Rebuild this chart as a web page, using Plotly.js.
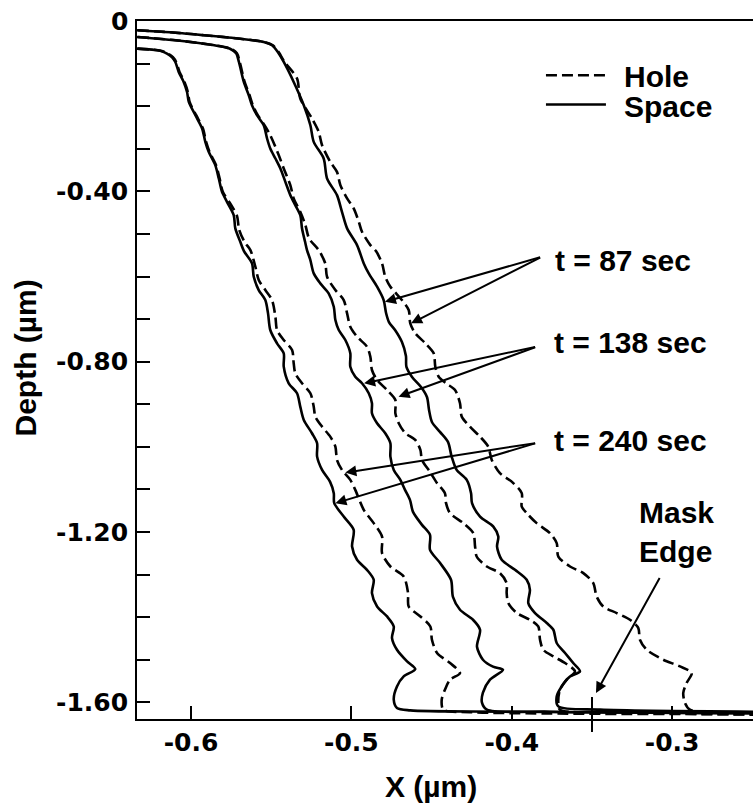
<!DOCTYPE html>
<html>
<head>
<meta charset="utf-8">
<script src="https://cdn.plot.ly/plotly-3.0.1.min.js"></script>
<style>html,body{margin:0;padding:0;background:#fff;}#chart{width:753px;height:807px;}</style>
</head>
<body>
<div id="chart"></div>
<script>
// ---- Data (X in µm, Depth in µm) ----
const s87x = [-0.6337,-0.6131,-0.5921,-0.5695,-0.5547,-0.5495,-0.5458,-0.5422,-0.5360,-0.5297,
 -0.5256,-0.5235,-0.5173,-0.5152,-0.5090,-0.5059,-0.5027,-0.4965,-0.4923,-0.4892,
 -0.4840,-0.4799,-0.4784,-0.4766,-0.4728,-0.4685,-0.4660,-0.4657,-0.4622,-0.4566,
 -0.4529,-0.4516,-0.4498,-0.4448,-0.4398,-0.4375,-0.4344,-0.4281,-0.4254,-0.4248,
 -0.4198,-0.4115,-0.4084,-0.4092,-0.4063,-0.3980,-0.3907,-0.3887,-0.3897,-0.3855,
 -0.3782,-0.3741,-0.3720,-0.3668,-0.3617,-0.3575,-0.3637,-0.3689,-0.3720,-0.3710,
 -0.3450,-0.2496];
const s87y = [-0.0218,-0.0265,-0.0335,-0.0418,-0.0493,-0.0570,-0.0734,-0.0962,-0.1431,-0.1978,
 -0.2447,-0.2839,-0.3228,-0.3697,-0.4089,-0.4481,-0.4870,-0.5262,-0.5692,-0.5926,
 -0.6240,-0.6553,-0.6857,-0.7069,-0.7256,-0.7538,-0.7866,-0.8124,-0.8359,-0.8594,
 -0.8828,-0.9133,-0.9415,-0.9649,-0.9884,-1.0229,-1.0541,-1.0775,-1.1087,-1.1322,
 -1.1636,-1.1871,-1.2106,-1.2340,-1.2652,-1.2887,-1.3121,-1.3356,-1.3668,-1.3902,
 -1.4137,-1.4294,-1.4606,-1.4841,-1.5076,-1.5272,-1.5390,-1.5625,-1.5859,-1.6094,
 -1.6171,-1.6218];

const h87x = [-0.6332,-0.6126,-0.5916,-0.5690,-0.5542,-0.5490,-0.5453,-0.5417,
 -0.5339,-0.5319,-0.5246,-0.5204,-0.5183,-0.5132,-0.5090,-0.5069,-0.5027,-0.4986,
 -0.4954,-0.4934,-0.4882,-0.4847,-0.4809,-0.4789,-0.4757,-0.4685,-0.4643,-0.4633,
 -0.4602,-0.4539,-0.4487,-0.4477,-0.4456,-0.4410,-0.4354,-0.4323,-0.4312,-0.4261,
 -0.4198,-0.4147,-0.4125,-0.4074,-0.3999,-0.3938,-0.3938,-0.3907,-0.3845,-0.3762,
 -0.3720,-0.3710,-0.3637,-0.3554,-0.3492,-0.3471,-0.3430,-0.3346,-0.3263,-0.3211,
 -0.3201,-0.3159,-0.3056,-0.2951,-0.2878,-0.2910,-0.2931,-0.2920,-0.2889,-0.2496];
const h87y = [-0.0218,-0.0265,-0.0335,-0.0418,-0.0493,-0.0570,-0.0734,-0.0962,
 -0.1351,-0.1820,-0.2290,-0.2604,-0.2916,-0.3308,-0.3543,-0.3854,-0.4166,-0.4401,
 -0.4716,-0.4950,-0.5262,-0.5403,-0.5692,-0.6006,-0.6240,-0.6553,-0.6787,-0.7099,
 -0.7334,-0.7568,-0.7803,-0.8117,-0.8352,-0.8507,-0.8664,-0.8976,-0.9290,-0.9525,
 -0.9760,-0.9994,-1.0306,-1.0618,-1.0822,-1.1087,-1.1402,-1.1557,-1.1791,-1.2026,
 -1.2260,-1.2575,-1.2809,-1.2964,-1.3199,-1.3513,-1.3748,-1.3902,-1.4060,-1.4255,
 -1.4529,-1.4764,-1.4998,-1.5155,-1.5310,-1.5545,-1.5780,-1.6013,-1.6171,-1.6230];

const s138x = [-0.6337,-0.6069,-0.5819,-0.5757,-0.5719,-0.5701,-0.5671,-0.5640,-0.5620,-0.5589,
 -0.5547,-0.5526,-0.5506,-0.5474,-0.5443,-0.5412,-0.5381,-0.5350,-0.5319,-0.5308,
 -0.5289,-0.5277,-0.5256,-0.5235,-0.5194,-0.5142,-0.5110,-0.5100,-0.5079,-0.5038,
 -0.5007,-0.5007,-0.4976,-0.4934,-0.4892,-0.4872,-0.4872,-0.4840,-0.4789,-0.4757,
 -0.4757,-0.4736,-0.4695,-0.4666,-0.4635,-0.4616,-0.4560,-0.4510,-0.4510,-0.4448,
 -0.4379,-0.4367,-0.4323,-0.4242,-0.4198,-0.4217,-0.4180,-0.4117,-0.4055,-0.4136,
 -0.4180,-0.4186,-0.4155,-0.3762,-0.2496];
const s138y = [-0.0375,-0.0465,-0.0594,-0.0652,-0.0758,-0.0969,-0.1431,-0.1743,-0.1978,-0.2212,
 -0.2447,-0.2759,-0.2994,-0.3228,-0.3463,-0.3777,-0.4089,-0.4324,-0.4558,-0.4870,
 -0.5185,-0.5379,-0.5614,-0.5926,-0.6161,-0.6395,-0.6710,-0.7022,-0.7256,-0.7491,
 -0.7803,-0.8117,-0.8352,-0.8507,-0.8741,-0.8976,-0.9210,-0.9445,-0.9680,-0.9914,
 -1.0229,-1.0541,-1.0775,-1.1010,-1.1244,-1.1526,-1.1831,-1.2066,-1.2418,-1.2723,
 -1.3121,-1.3520,-1.3825,-1.4060,-1.4294,-1.4693,-1.4998,-1.5162,-1.5233,-1.5467,
 -1.5772,-1.6007,-1.6171,-1.6218,-1.6253];

const h138x = [-0.6332,-0.6064,-0.5814,-0.5752,-0.5714,-0.5696,-0.5666,-0.5635,-0.5615,-0.5584,-0.5542,
 -0.5506,-0.5453,-0.5422,-0.5381,-0.5360,-0.5319,-0.5287,-0.5264,
 -0.5204,-0.5163,-0.5152,-0.5100,-0.5048,-0.5027,-0.5007,-0.4965,-0.4903,-0.4882,
 -0.4872,-0.4840,-0.4778,-0.4726,-0.4726,-0.4705,-0.4664,
 -0.4602,-0.4570,-0.4560,-0.4510,-0.4466,-0.4417,-0.4410,-0.4385,-0.4302,-0.4240,
 -0.4229,-0.4219,-0.4156,-0.4074,-0.4032,-0.4032,-0.4022,-0.3969,-0.3887,-0.3835,
 -0.3824,-0.3804,-0.3741,-0.3668,-0.3606,-0.3658,-0.3700,-0.3710,-0.3700,-0.3325,-0.2496];
const h138y = [-0.0375,-0.0465,-0.0594,-0.0652,-0.0758,-0.0969,-0.1431,-0.1743,-0.1978,-0.2212,-0.2447,
 -0.2681,-0.3151,-0.3463,-0.3854,-0.4166,-0.4481,-0.4793,-0.5105,
 -0.5379,-0.5692,-0.6006,-0.6318,-0.6553,-0.6865,-0.7179,-0.7413,-0.7648,-0.7883,
 -0.8195,-0.8429,-0.8664,-0.8898,-0.9210,-0.9445,-0.9680,
 -0.9837,-1.0071,-1.0306,-1.0588,-1.0853,-1.1087,-1.1322,-1.1557,-1.1791,-1.2026,
 -1.2340,-1.2575,-1.2809,-1.2964,-1.3199,-1.3433,-1.3668,-1.3902,-1.4060,-1.4217,
 -1.4529,-1.4764,-1.4920,-1.5076,-1.5272,-1.5467,-1.5702,-1.6013,-1.6171,-1.6230,-1.6288];

const s240x = [-0.6337,-0.6193,-0.6150,-0.6118,-0.6098,-0.6077,-0.6046,-0.6025,-0.6014,-0.5973,
 -0.5931,-0.5911,-0.5890,-0.5849,-0.5827,-0.5807,-0.5776,-0.5734,-0.5724,-0.5693,
 -0.5670,-0.5620,-0.5609,-0.5578,-0.5537,-0.5520,-0.5506,-0.5464,-0.5422,-0.5422,
 -0.5391,-0.5339,-0.5319,-0.5297,-0.5246,-0.5214,-0.5214,-0.5183,-0.5133,-0.5110,
 -0.5107,-0.5048,-0.4986,-0.4996,-0.4965,-0.4903,-0.4861,-0.4872,-0.4840,-0.4778,
 -0.4736,-0.4747,-0.4716,-0.4653,-0.4602,-0.4674,-0.4716,-0.4736,-0.4716,-0.4633,
 -0.4074,-0.2496];
const s240y = [-0.0648,-0.0699,-0.0765,-0.0852,-0.0962,-0.1196,-0.1431,-0.1666,-0.1900,-0.2212,
 -0.2524,-0.2839,-0.3073,-0.3385,-0.3697,-0.4012,-0.4246,-0.4558,-0.4870,-0.5185,
 -0.5403,-0.5692,-0.6006,-0.6318,-0.6553,-0.6865,-0.7256,-0.7568,-0.7803,-0.8117,
 -0.8507,-0.8741,-0.9056,-0.9368,-0.9680,-0.9914,-1.0229,-1.0541,-1.0822,-1.1087,
 -1.1322,-1.1636,-1.1948,-1.2340,-1.2652,-1.2887,-1.3121,-1.3433,-1.3748,-1.3982,
 -1.4217,-1.4489,-1.4764,-1.5038,-1.5217,-1.5390,-1.5625,-1.5937,-1.6131,-1.6188,
 -1.6218,-1.6253];

const h240x = [-0.6332,-0.6188,-0.6145,-0.6113,-0.6093,-0.6072,-0.6041,-0.6020,-0.6009,-0.5968,
 -0.5926,-0.5906,-0.5885,-0.5844,-0.5822,-0.5802,
 -0.5757,-0.5713,-0.5701,-0.5666,-0.5630,-0.5599,-0.5578,-0.5537,-0.5495,-0.5474,
 -0.5464,-0.5422,-0.5370,-0.5360,-0.5350,-0.5308,-0.5256,-0.5235,-0.5225,-0.5183,
 -0.5132,-0.5100,-0.5090,-0.5059,-0.5007,-0.4976,-0.4923,-0.4861,-0.4809,-0.4809,
 -0.4757,-0.4674,-0.4647,-0.4643,-0.4570,-0.4508,-0.4498,-0.4466,-0.4385,-0.4323,
 -0.4385,-0.4417,-0.4437,-0.4427,-0.4261,-0.2496];
const h240y = [-0.0648,-0.0699,-0.0765,-0.0852,-0.0962,-0.1196,-0.1431,-0.1666,-0.1900,-0.2212,
 -0.2524,-0.2839,-0.3073,-0.3385,-0.3697,-0.4012,
 -0.4277,-0.4582,-0.4887,-0.5192,-0.5379,-0.5771,-0.6083,-0.6318,-0.6553,-0.6944,
 -0.7256,-0.7491,-0.7725,-0.8037,-0.8272,-0.8507,-0.8741,-0.9056,-0.9290,-0.9525,
 -0.9760,-0.9994,-1.0306,-1.0541,-1.0775,-1.1010,-1.1479,-1.1791,-1.2106,-1.2495,
 -1.2809,-1.3044,-1.3426,-1.3748,-1.3982,-1.4217,-1.4529,-1.4841,-1.5076,-1.5310,
 -1.5467,-1.5702,-1.5937,-1.6171,-1.6230,-1.6276];

// Tick values / labels
const xTickVals = [-0.6, -0.5, -0.4, -0.3];
const xTickText = ['-0.6', '-0.5', '-0.4', '-0.3'];
const yTickVals = [0, -0.1, -0.2, -0.3, -0.4, -0.5, -0.6, -0.7, -0.8, -0.9, -1.0, -1.1, -1.2, -1.3, -1.4, -1.5, -1.6];
const yLabelVals = [0, -0.4, -0.8, -1.2, -1.6];
const yLabelText = ['0', '-0.40', '-0.80', '-1.20', '-1.60'];
const maskEdgeX = -0.35;

// Time labels, arrow apex and arrow targets
const timeLabels = ['t = 87 sec', 't = 138 sec', 't = 240 sec'];
const timeLabelPos = [[-0.3745, -0.5626], [-0.3751, -0.7550], [-0.3751, -0.9849]];
const timeApex = [[-0.3814, -0.5537], [-0.3845, -0.7648], [-0.3845, -0.9907]];
const timeTargets = [
  [[-0.4791, -0.6592], [-0.4628, -0.7099]],
  [[-0.4921, -0.8507], [-0.4706, -0.8821]],
  [[-0.5100, -1.1322], [-0.5038, -1.0604]]
];
const maskLabel = 'Mask<br>Edge';
const maskLabelPos = [-0.3221, -1.2007];
const maskArrowTail = [-0.3073, -1.3044];
const maskArrowTip = [-0.3475, -1.5779];

// Legend positions (data coords)
const legendNames = ['Hole', 'Space'];
const legendLineX = [-0.3787, -0.3413];
const legendLineY = [-0.1274, -0.1961];
const legendTextX = -0.3315;
const legendTextY = [-0.1293, -0.1996];

// ---- Build ----
const TXT = {family: 'Liberation Sans, Arial, sans-serif', size: 30, color: '#000', weight: 'bold'};
const HOLE_DASH = '11px,5px';
const tickFont = {family: 'DejaVu Sans, sans-serif', size: 25, color: '#000', weight: 'bold'};

const series = [
  {x: s87x, y: s87y, dash: 'solid'},
  {x: h87x, y: h87y, dash: HOLE_DASH},
  {x: s138x, y: s138y, dash: 'solid'},
  {x: h138x, y: h138y, dash: HOLE_DASH},
  {x: s240x, y: s240y, dash: 'solid'},
  {x: h240x, y: h240y, dash: HOLE_DASH}
];
const traces = series.map(s => ({
  type: 'scatter', mode: 'lines', x: s.x, y: s.y,
  line: {color: '#000', width: 2.6, dash: s.dash, shape: 'spline', smoothing: 0.8},
  hoverinfo: 'skip', showlegend: false
}));

const annotations = [];
// y-axis tick labels placed on the y scale
yLabelVals.forEach((v, i) => {
  annotations.push({x: -0.0114, y: v, xref: 'paper', yref: 'y', text: yLabelText[i], showarrow: false,
    xanchor: 'right', yanchor: 'middle', font: tickFont});
});
timeLabels.forEach((t, i) => {
  annotations.push({x: timeLabelPos[i][0], y: timeLabelPos[i][1], xref: 'x', yref: 'y',
    text: t, showarrow: false, xanchor: 'left', yanchor: 'middle', font: TXT});
  timeTargets[i].forEach(tg => {
    annotations.push({x: tg[0], y: tg[1], xref: 'x', yref: 'y', ax: timeApex[i][0], ay: timeApex[i][1],
      axref: 'x', ayref: 'y', text: '', showarrow: true, arrowhead: 2, arrowsize: 1.1, arrowwidth: 2,
      arrowcolor: '#000'});
  });
});
annotations.push({x: maskArrowTip[0], y: maskArrowTip[1], xref: 'x', yref: 'y', ax: maskArrowTail[0], ay: maskArrowTail[1],
  axref: 'x', ayref: 'y', text: '', showarrow: true, arrowhead: 2, arrowsize: 1.1, arrowwidth: 2, arrowcolor: '#000'});
annotations.push({x: maskLabelPos[0], y: maskLabelPos[1], xref: 'x', yref: 'y', text: maskLabel, showarrow: false,
  xanchor: 'left', yanchor: 'middle', align: 'left', font: TXT});
legendNames.forEach((n, i) => {
  annotations.push({x: legendTextX, y: legendTextY[i], xref: 'x', yref: 'y', text: n, showarrow: false,
    xanchor: 'left', yanchor: 'middle', font: TXT});
});
// Axis titles
annotations.push({x: 0.4765, y: -0.096, xref: 'paper', yref: 'paper', text: 'X (µm)', showarrow: false,
  xanchor: 'center', yanchor: 'middle', font: TXT});
annotations.push({x: -0.1802, y: 0.5179, xref: 'paper', yref: 'paper', text: 'Depth (µm)', showarrow: false,
  xanchor: 'center', yanchor: 'middle', textangle: -90, font: TXT});

const shapes = [
  {type: 'line', xref: 'x', yref: 'y', x0: legendLineX[0], x1: legendLineX[1], y0: legendLineY[0], y1: legendLineY[0],
   line: {color: '#000', width: 2.6, dash: HOLE_DASH}},
  {type: 'line', xref: 'x', yref: 'y', x0: legendLineX[0], x1: legendLineX[1], y0: legendLineY[1], y1: legendLineY[1],
   line: {color: '#000', width: 2.6}},
  {type: 'line', xref: 'x', yref: 'paper', x0: maskEdgeX, x1: maskEdgeX, y0: 0.0315, y1: -0.0186,
   line: {color: '#000', width: 2}}
];

const layout = {
  width: 753, height: 807,
  margin: {l: 137, r: 0, t: 21, b: 88, pad: 0},
  paper_bgcolor: '#fff', plot_bgcolor: '#fff',
  showlegend: false,
  xaxis: {range: [-0.6337, -0.2496], tickmode: 'array', tickvals: xTickVals, ticktext: xTickText,
    ticks: 'inside', ticklen: 13, tickwidth: 2, tickcolor: '#000', showline: true, linewidth: 2, linecolor: '#000',
    mirror: true, showgrid: false, zeroline: false, tickfont: tickFont, ticklabelstandoff: 0},
  yaxis: {range: [-1.639, 0], tickmode: 'array', tickvals: yTickVals, showticklabels: false,
    ticks: 'inside', ticklen: 13, tickwidth: 2, tickcolor: '#000', showline: true, linewidth: 2, linecolor: '#000',
    mirror: false, showgrid: false, zeroline: false},
  annotations: annotations,
  shapes: shapes
};
Plotly.newPlot('chart', traces, layout, {displayModeBar: false, staticPlot: true});
</script>
</body>
</html>
